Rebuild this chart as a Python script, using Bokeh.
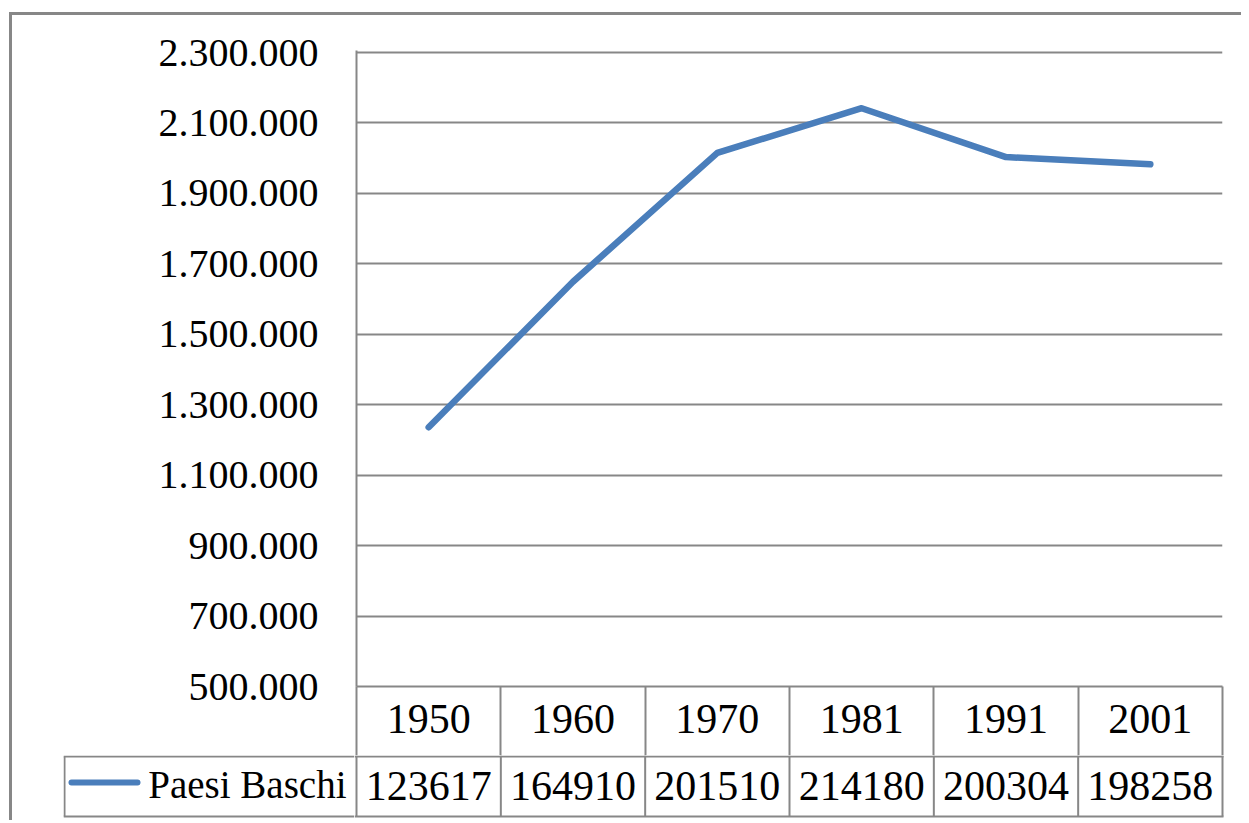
from bokeh.plotting import figure
from bokeh.layouts import column, row
from bokeh.models import Range1d, FixedTicker, ColumnDataSource
from bokeh.core.properties import value
from bokeh.embed import file_html
from bokeh.resources import INLINE

# ---- data ----
years = ["1950", "1960", "1970", "1981", "1991", "2001"]
population = [1236170, 1649100, 2015100, 2141800, 2003040, 1982580]
table_labels = ["123617", "164910", "201510", "214180", "200304", "198258"]
series_name = "Paesi Baschi"
y_ticks = [500000, 700000, 900000, 1100000, 1300000, 1500000,
           1700000, 1900000, 2100000, 2300000]

FONT = "Liberation Serif"
GRAY = "#878787"
BLUE = "#4A7EBB"

W = 1229
FRAME_L = 344
FRAME_R = 19
n = len(years)
frame_w = W - FRAME_L - FRAME_R
col_px = frame_w / n
xs = [i + 0.5 for i in range(n)]

# ---- chart (with header row of the table as its x axis) ----
y_min, y_max = y_ticks[0], y_ticks[-1]
pad = (y_max - y_min) * 2 / 634
HEADER_H = 70
p = figure(width=W, height=740, x_range=Range1d(0, n),
           y_range=Range1d(y_min, y_max + pad),
           output_backend="svg", toolbar_location=None,
           min_border_left=FRAME_L, min_border_right=FRAME_R,
           min_border_top=35, min_border_bottom=69)
p.outline_line_color = None
p.xgrid.visible = False
p.ygrid.grid_line_color = GRAY
p.ygrid.grid_line_width = 2

p.yaxis.ticker = FixedTicker(ticks=y_ticks)
p.yaxis.major_label_overrides = {t: f"{t:,}".replace(",", ".") for t in y_ticks}
p.yaxis.major_label_text_font = FONT
p.yaxis.major_label_text_font_size = "40px"
p.yaxis.major_label_text_color = "black"
p.yaxis.major_label_standoff = 32
p.yaxis.major_tick_line_color = None
p.yaxis.minor_tick_line_color = None
p.yaxis.axis_line_color = GRAY
p.yaxis.axis_line_width = 2

p.xaxis.ticker = FixedTicker(ticks=xs, minor_ticks=list(range(n + 1)))
p.xaxis.major_label_overrides = {x: y for x, y in zip(xs, years)}
p.xaxis.major_label_text_font = FONT
p.xaxis.major_label_text_font_size = "42px"
p.xaxis.major_label_text_color = "black"
p.xaxis.major_label_standoff = 18 - HEADER_H
p.xaxis.major_tick_line_color = None
p.xaxis.minor_tick_line_color = GRAY
p.xaxis.minor_tick_line_width = 2
p.xaxis.minor_tick_in = 0
p.xaxis.minor_tick_out = HEADER_H
p.xaxis.axis_line_color = GRAY
p.xaxis.axis_line_width = 2

p.line(x=xs, y=population, line_color=BLUE, line_width=6.5, line_cap="round",
       line_join="round")

# ---- data row of the table ----
RH = 65
TOP_Y, BOT_Y, MID_Y = 64, 4, 35
edge_pad = 2 / col_px
d = figure(width=887, height=RH, x_range=Range1d(-edge_pad, n + edge_pad),
           y_range=Range1d(0, RH), output_backend="svg", toolbar_location=None,
           x_axis_location=None, y_axis_location=None,
           min_border_left=0, min_border_right=17,
           min_border_top=0, min_border_bottom=0)
d.outline_line_color = None
d.grid.visible = False
edges = list(range(n + 1))
d.segment(x0=edges, x1=edges, y0=[BOT_Y] * len(edges), y1=[RH] * len(edges),
          line_color=GRAY, line_width=2)
d.segment(x0=[-edge_pad, -edge_pad], x1=[n + edge_pad / 2, n + edge_pad / 2],
          y0=[TOP_Y, BOT_Y], y1=[TOP_Y, BOT_Y], line_color=GRAY, line_width=2)
src = ColumnDataSource(dict(x=xs, vals=table_labels))
d.text(x="x", y=MID_Y, text="vals", source=src,
       text_font=value(FONT), text_font_size=value("42px"), text_color="black",
       text_align="center", text_baseline="middle")

# ---- legend cell ----
LW = 291
lg = figure(width=342, height=RH, x_range=Range1d(0, LW), y_range=Range1d(0, RH),
            output_backend="svg", toolbar_location=None,
            x_axis_location=None, y_axis_location=None,
            min_border_left=51, min_border_right=0,
            min_border_top=0, min_border_bottom=0)
lg.outline_line_color = None
lg.grid.visible = False
lg.segment(x0=[1, 0, 0], x1=[1, LW, LW], y0=[BOT_Y, TOP_Y, BOT_Y],
           y1=[TOP_Y, TOP_Y, BOT_Y], line_color=GRAY, line_width=2)
lg.line(x=[8, 74], y=[MID_Y + 3] * 2, line_color=BLUE, line_width=6,
        line_cap="round")
lg.text(x=[LW - 8], y=[MID_Y + 1], text=[series_name],
        text_font=value(FONT), text_font_size=value("39px"), text_color="black",
        text_align="right", text_baseline="middle")

layout = column(p, row(lg, d, spacing=0), spacing=0,
                styles={"border-left": f"3px solid {GRAY}",
                        "border-top": f"3px solid {GRAY}",
                        "margin-left": "9px", "margin-top": "12px"})

open("out.html", "w").write(file_html(layout, INLINE))
